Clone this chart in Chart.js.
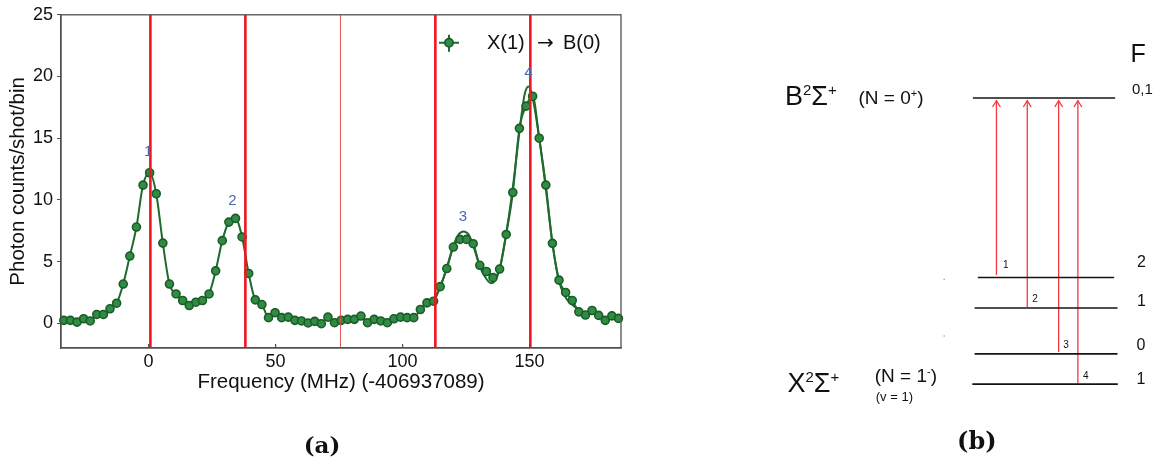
<!DOCTYPE html>
<html><head><meta charset="utf-8">
<script src="https://cdn.jsdelivr.net/npm/chart.js@4.4.1/dist/chart.umd.min.js"></script>
<style>
html,body{margin:0;padding:0;background:#fff;width:1164px;height:468px;overflow:hidden}
#ca{position:absolute;left:0;top:0}
#cb{position:absolute;left:740px;top:0}
</style></head><body>
<canvas id="ca" width="740" height="468"></canvas>
<canvas id="cb" width="424" height="468"></canvas>
<script>
// ---------- panel (a) data ----------
const freq = [
 -33.4,-30.8,-28.2,-25.6,-23.0,-20.4,-17.8,-15.2,-12.6,-10.0,
 -7.4,-4.8,-2.2,0.4,3.0,5.6,8.2,10.8,13.4,16.0,
 18.6,21.2,23.8,26.4,29.0,31.6,34.2,36.8,39.4,42.0,
 44.6,47.2,49.8,52.4,55.0,57.6,60.2,62.8,65.4,68.0,
 70.6,73.2,75.8,78.4,81.0,83.6,86.2,88.8,91.4,94.0,
 96.6,99.2,101.8,104.4,107.0,109.6,112.2,114.8,117.4,120.0,
 122.6,125.2,127.8,130.4,133.0,135.6,138.2,140.8,143.4,146.0,
 148.6,151.2,153.8,156.4,159.0,161.6,164.2,166.8,169.4,172.0,
 174.6,177.2,179.8,182.4,185.0];
const counts = [
 0.24,0.24,0.10,0.37,0.19,0.72,0.72,1.18,1.63,3.18,
 5.45,7.80,11.2,12.2,10.5,6.5,3.18,2.38,1.85,1.44,
 1.71,1.85,2.38,4.25,6.7,8.2,8.5,7.0,4.04,1.9,
 1.52,0.46,0.86,0.46,0.5,0.24,0.19,0.03,0.16,-0.03,
 0.5,0.05,0.24,0.32,0.32,0.59,0.05,0.32,0.19,0.05,
 0.37,0.5,0.46,0.46,1.12,1.66,1.79,2.97,4.44,6.18,
 6.8,6.8,6.45,4.7,4.2,3.7,4.4,7.2,10.6,15.8,
 17.6,18.4,15.0,11.2,6.48,3.5,2.5,1.85,0.93,0.67,
 1.04,0.64,0.24,0.6,0.4];
const fitFreq = [112.2,114.8,117.4,120.0,122.0,124.0,126.0,128.0,130.4,133.0,134.8,136.5,138.2,140.8,143.4,146.0,148.0,149.6,151.2,153.8,156.4,159.0,161.6,164.2,166.8,169.4,172.0];
const fitCounts = [1.9,2.9,4.5,6.3,7.2,7.45,7.2,6.2,4.6,3.6,3.25,3.5,4.4,7.3,11.0,15.5,18.5,19.2,18.3,15.0,10.9,6.5,3.4,2.1,1.5,1.1,0.85];
const xTicks = [0,50,100,150];
const yTicks = [0,5,10,15,20,25];
const redLines = [0.7,38.1,112.9,150.3];
const refLines = [75.2];
const peakNames = ['1','2','3','4'];
const peakX = [-0.2,33.0,123.8,149.5];
const peakY = [13.9,9.9,8.6,20.3];
const legendParts = ['X(1)', '\u2192', 'B(0)'];
const xTitle = 'Frequency (MHz) (-406937089)';
const yTitle = 'Photon counts/shot/bin';

// ---------- panel (b) data (diagram units) ----------
const levelY = [95.7,278.3,309.3,356.0,386.7];
const levelStart = [233.3,238.3,235.0,235.0,232.7];
const levelEnd = [378.3,377.3,380.7,380.7,381.0];
const fNames = ['0,1','2','1','0','1'];
const fNameX = [406,405,405,404.5,404.5];
const fNameY = [87.3,263.3,302.7,347.3,381.7];
const arrowX = [257.3,288.7,320.7,340.3];
const arrowFrom = [275.7,308.3,354.0,386.0];
const arrowTo = [98.3,98.3,98.3,98.3];
const arrowNames = ['1','2','3','4'];
const arrowNameX = [266.7,296.7,328.3,348.3];
const arrowNameY = [266.0,300.7,347.3,378.3];
const specks = [[204,280],[204,337.7]];

const SANS = '"Liberation Sans", Arial, Helvetica, sans-serif';
const SERIF = '"DejaVu Serif", "Liberation Serif", serif';

const decoA = {
  id:'decoA',
  afterDatasetsDraw(chart){
    const {ctx, chartArea:a, scales:{x,y}} = chart;
    ctx.save();
    ctx.beginPath(); ctx.rect(a.left,a.top,a.right-a.left,a.bottom-a.top); ctx.clip();
    ctx.strokeStyle='rgba(228,70,70,0.9)'; ctx.lineWidth=1;
    refLines.forEach(v=>{const p=Math.round(x.getPixelForValue(v))+0.5;ctx.beginPath();ctx.moveTo(p,a.top);ctx.lineTo(p,a.bottom);ctx.stroke();});
    ctx.strokeStyle='#f0161f'; ctx.lineWidth=2.6;
    redLines.forEach(v=>{const p=x.getPixelForValue(v);ctx.beginPath();ctx.moveTo(p,a.top);ctx.lineTo(p,a.bottom);ctx.stroke();});
    ctx.restore();
    ctx.save();
    // peak labels
    ctx.fillStyle='#4a68b2'; ctx.font='15px '+SANS; ctx.textAlign='center'; ctx.textBaseline='middle';
    peakNames.forEach((t,i)=>ctx.fillText(t,x.getPixelForValue(peakX[i]),y.getPixelForValue(peakY[i])));
    // frame
    ctx.strokeStyle='#505050'; ctx.lineWidth=1.3;
    ctx.strokeRect(a.left,a.top,a.right-a.left,a.bottom-a.top);
    // inward x ticks
    ctx.lineWidth=1.2;
    xTicks.forEach(v=>{const p=x.getPixelForValue(v);ctx.beginPath();ctx.moveTo(p,a.bottom);ctx.lineTo(p,a.bottom-4);ctx.stroke();});
    // legend
    const lx=a.right-172, ly=a.top+28;
    ctx.strokeStyle='#1e6a2f'; ctx.lineWidth=2;
    ctx.beginPath(); ctx.moveTo(lx-10,ly); ctx.lineTo(lx+10,ly); ctx.moveTo(lx,ly-8); ctx.lineTo(lx,ly+9); ctx.stroke();
    ctx.beginPath(); ctx.arc(lx,ly,4.2,0,Math.PI*2); ctx.fillStyle='#2f8c42'; ctx.fill(); ctx.lineWidth=1.6; ctx.strokeStyle='#1b5c29'; ctx.stroke();
    ctx.fillStyle='#111'; ctx.textAlign='left'; ctx.textBaseline='middle';
    ctx.font='20px '+SANS; ctx.fillText(legendParts[0], lx+38, ly+1);
    ctx.font='20px "DejaVu Sans", sans-serif'; ctx.fillText(legendParts[1], lx+88, ly+1);
    ctx.font='20px '+SANS; ctx.fillText(legendParts[2], lx+114, ly+1);
    // (a)
    ctx.font='bold 23px '+SERIF; ctx.textAlign='center';
    ctx.fillText('(a)', 322, 447);
    ctx.restore();
  }
};

new Chart(document.getElementById('ca'), {
  type:'scatter',
  data:{datasets:[
    {data:fitFreq.map((v,i)=>({x:v,y:fitCounts[i]})), showLine:true, pointRadius:0, borderColor:'#1e6a2f', borderWidth:2, cubicInterpolationMode:'monotone', clip:false, order:2},
    {data:freq.map((v,i)=>({x:v,y:counts[i]})), showLine:true, cubicInterpolationMode:'monotone', borderColor:'#1e6a2f', borderWidth:2,
     pointRadius:4.0, pointBackgroundColor:'#2f8c42', pointBorderColor:'#1b5c29', pointBorderWidth:1.6, clip:false, order:1}
  ]},
  options:{
    responsive:false, animation:false, devicePixelRatio:1,
    layout:{padding:{top:12,right:119,bottom:73,left:0}},
    plugins:{legend:{display:false}, tooltip:{enabled:false}},
    scales:{
      x:{type:'linear', min:-34.5, max:186,
        afterBuildTicks:s=>{s.ticks=xTicks.map(v=>({value:v}));},
        afterFit:s=>{s.height=47;},
        grid:{display:false, drawTicks:false, tickLength:0}, border:{display:true,color:'#505050',width:1.3},
        ticks:{font:{family:SANS,size:18}, color:'#111', padding:3, maxRotation:0},
        title:{display:true, text:xTitle, font:{family:SANS,size:20.5}, color:'#111', padding:{top:0,bottom:0}}},
      y:{type:'linear', min:-2, max:25,
        afterBuildTicks:s=>{s.ticks=yTicks.map(v=>({value:v}));},
        afterFit:s=>{s.width=61;},
        grid:{drawOnChartArea:false, drawTicks:true, tickLength:4, color:'#505050'}, border:{display:true,color:'#505050',width:1.3},
        ticks:{font:{family:SANS,size:18}, color:'#111', padding:4},
        title:{display:true, text:yTitle, font:{family:SANS,size:20.5}, color:'#111', padding:{top:6,bottom:6}}}
    }
  },
  plugins:[decoA]
});

// ---------- panel (b) ----------
function rich(ctx, parts, x, y){
  let cx=x;
  parts.forEach(p=>{ctx.font=p.s+'px '+SANS; ctx.fillText(p.t,cx,y+(p.dy||0)); cx+=ctx.measureText(p.t).width+(p.gap||0);});
}
const decoB = {
  id:'decoB',
  afterDatasetsDraw(chart){
    const {ctx, scales:{x,y}} = chart;
    const X=v=>x.getPixelForValue(v), Y=v=>y.getPixelForValue(v);
    ctx.save();
    ctx.fillStyle='#111'; ctx.textBaseline='alphabetic'; ctx.textAlign='left';
    rich(ctx,[{t:'B',s:27},{t:'2',s:15,dy:-10},{t:'\u03A3',s:27},{t:'+',s:15,dy:-10}], X(41.7), Y(102.7));
    rich(ctx,[{t:'(N = 0',s:19},{t:'+',s:11,dy:-7},{t:')',s:19}], X(116.7), Y(101.5));
    rich(ctx,[{t:'X',s:27},{t:'2',s:15,dy:-10},{t:'\u03A3',s:27},{t:'+',s:15,dy:-10}], X(44.3), Y(395));
    rich(ctx,[{t:'(N = 1',s:19},{t:'-',s:11,dy:-7},{t:')',s:19}], X(133.3), Y(385));
    rich(ctx,[{t:'(v = 1)',s:13}], X(134.3), Y(403.8));
    ctx.textAlign='center'; ctx.textBaseline='middle';
    ctx.font='25px '+SANS; ctx.fillText('F', X(401.7), Y(51.7));
    fNames.forEach((t,i)=>{ctx.font=(i===0?'15px ':'16px ')+SANS; ctx.fillText(t,X(fNameX[i]),Y(fNameY[i]));});
    ctx.font='10px '+SANS;
    arrowNames.forEach((t,i)=>ctx.fillText(t,X(arrowNameX[i]),Y(arrowNameY[i])));
    ctx.font='bold 24px '+SERIF;
    ctx.fillText('(b)', X(237.3), Y(446.7));
    ctx.restore();
  }
};
const dsB = [];
levelY.forEach((v,i)=>dsB.push({data:[{x:levelStart[i],y:v},{x:levelEnd[i],y:v}], showLine:true, pointRadius:0, borderColor:'#141414', borderWidth:1.6, clip:false}));
arrowX.forEach((v,i)=>{
  dsB.push({data:[{x:v,y:arrowFrom[i]},{x:v,y:arrowTo[i]}], showLine:true, pointRadius:0, borderColor:'#f03a3f', borderWidth:1.3, clip:false});
  dsB.push({data:[{x:v-4,y:arrowTo[i]+6.5},{x:v,y:arrowTo[i]},{x:v+4,y:arrowTo[i]+6.5}], showLine:true, pointRadius:0, borderColor:'#f03a3f', borderWidth:1.3, clip:false});
});
dsB.push({data:specks.map(p=>({x:p[0],y:p[1]})), showLine:false, pointRadius:0.8, pointBackgroundColor:'#999', pointBorderWidth:0});

new Chart(document.getElementById('cb'), {
  type:'scatter',
  data:{datasets:dsB},
  options:{
    responsive:false, animation:false, devicePixelRatio:1,
    layout:{padding:0},
    plugins:{legend:{display:false}, tooltip:{enabled:false}},
    scales:{
      x:{type:'linear', min:0, max:424, display:false},
      y:{type:'linear', min:0, max:468, reverse:true, display:false}
    }
  },
  plugins:[decoB]
});
</script>
</body></html>
